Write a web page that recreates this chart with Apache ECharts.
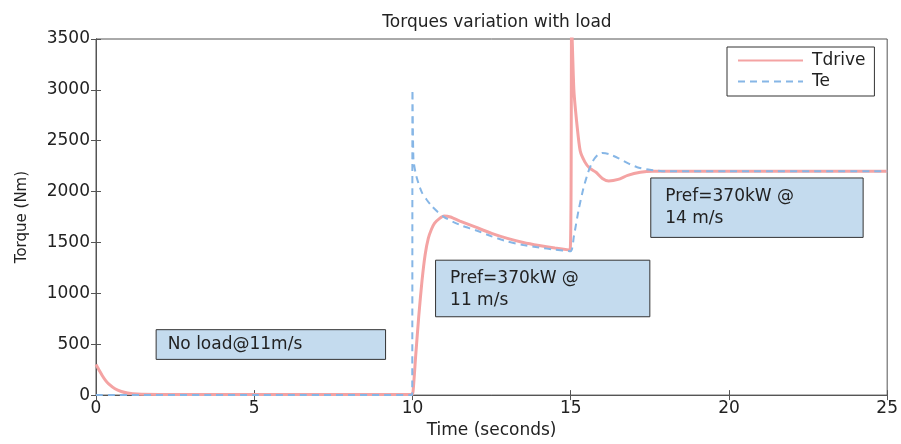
<!DOCTYPE html>
<html>
<head>
<meta charset="utf-8">
<script src="https://cdn.jsdelivr.net/npm/echarts@6/dist/echarts.min.js"></script>
<style>
  html, body { margin: 0; padding: 0; background: #fff; }
  #chart { width: 901px; height: 444px; }
</style>
</head>
<body>
<div id="chart"></div>
<script>
// Drive torque (Tdrive) samples: time in s, torque in Nm
const tdriveTime = [0, 0.1, 0.2, 0.3, 0.4, 0.6, 0.8, 1.0, 1.3, 2, 5, 9.98, 10.02, 10.1, 10.2, 10.3, 10.4, 10.5, 10.6, 10.7, 10.85, 11.0, 11.2, 11.5, 12, 12.5, 13, 13.5, 14, 14.5, 14.98, 15.03, 15.1, 15.2, 15.3, 15.45, 15.6, 15.8, 16.0, 16.2, 16.5, 16.8, 17.2, 17.6, 18, 20, 25];
const tdriveVal  = [300, 245, 190, 145, 110, 62, 35, 20, 10, 6, 5, 5, 40, 380, 780, 1120, 1380, 1540, 1630, 1690, 1735, 1760, 1750, 1710, 1650, 1590, 1540, 1500, 1470, 1445, 1425, 3650, 3000, 2650, 2400, 2290, 2230, 2190, 2130, 2105, 2120, 2160, 2190, 2200, 2200, 2200, 2200];

// Generator electromagnetic torque (Te) samples
const teTime = [0, 5, 9.99, 10.0, 10.03, 10.1, 10.2, 10.3, 10.45, 10.6, 10.8, 11.0, 11.3, 11.6, 12, 12.5, 13, 13.5, 14, 14.5, 15.0, 15.1, 15.25, 15.4, 15.55, 15.7, 15.85, 16.0, 16.2, 16.5, 16.8, 17.1, 17.5, 18, 20, 25];
const teVal  = [0, 0, 0, 3000, 2320, 2180, 2070, 1990, 1920, 1860, 1800, 1750, 1700, 1660, 1620, 1560, 1510, 1475, 1450, 1430, 1415, 1560, 1820, 2030, 2190, 2300, 2360, 2380, 2370, 2330, 2280, 2240, 2215, 2200, 2200, 2200];

// Axis ticks
const xTicks = [0, 5, 10, 15, 20, 25];
const yTicks = [0, 500, 1000, 1500, 2000, 2500, 3000, 3500];

// Operating-condition notes: [x0, y0, x1, y1, text, placement]
const noteNoLoad = [1.9, 643, 9.15, 351, 'No load@11m/s', 'insideLeft'];
const noteWind11 = [10.73, 1326, 17.5, 770, 'Pref=370kW @\n11 m/s', 'insideTopLeft'];
const noteWind14 = [17.53, 2134, 24.24, 1550, 'Pref=370kW @\n14 m/s', 'insideTopLeft'];

const FONT = 'DejaVu Sans, Liberation Sans, Arial, sans-serif';
const AX = '#555';
const TXT = '#222';

function pairs(xs, ys) { return xs.map((x, i) => [x, ys[i]]); }

function note(n) {
  const left = n[5] === 'insideLeft';
  return [
    {
      xAxis: n[0], yAxis: n[1],
      label: {
        show: true, position: n[5], formatter: n[4],
        color: TXT, fontSize: 17, fontFamily: FONT, lineHeight: 22,
        distance: left ? 12 : 8,
        padding: left ? 0 : [0, 0, 0, 7]
      }
    },
    { xAxis: n[2], yAxis: n[3] }
  ];
}

const chart = echarts.init(document.getElementById('chart'), null, { renderer: 'canvas' });

const axisCommon = {
  type: 'value',
  axisLine: { show: true, lineStyle: { color: AX, width: 1 } },
  axisTick: { show: true, inside: true, length: 5, lineStyle: { color: AX } },
  splitLine: { show: false },
  axisLabel: { color: TXT, fontSize: 17, fontFamily: FONT, formatter: v => String(v) }
};

chart.setOption({
  animation: false,
  backgroundColor: '#fff',
  title: {
    text: 'Torques variation with load',
    left: 492, top: 9, textAlign: 'center',
    textStyle: { fontSize: 17, fontWeight: 'normal', color: TXT, fontFamily: FONT }
  },
  legend: {
    orient: 'vertical',
    left: 727, top: 47,
    padding: [5, 9, 6, 10],
    itemGap: 4,
    itemWidth: 65, itemHeight: 14,
    borderColor: '#333', borderWidth: 1,
    backgroundColor: '#fff',
    itemStyle: { opacity: 0 },
    textStyle: { fontSize: 17, color: TXT, fontFamily: FONT, padding: [0, 0, 0, 4] },
    data: ['Tdrive', 'Te']
  },
  grid: {
    left: 96, right: 13, top: 39, bottom: 46,
    show: true, borderColor: AX, borderWidth: 1, backgroundColor: 'transparent'
  },
  xAxis: [
    Object.assign({}, axisCommon, {
      min: xTicks[0], max: xTicks[xTicks.length - 1], interval: 5,
      name: 'Time (seconds)', nameLocation: 'middle', nameGap: 24,
      nameTextStyle: { fontSize: 17, color: TXT, fontFamily: FONT },
      axisLabel: Object.assign({}, axisCommon.axisLabel, { margin: 5 })
    }),
    Object.assign({}, axisCommon, {
      position: 'top', min: 0, max: 25, interval: 5,
      axisLabel: { show: false }
    })
  ],
  yAxis: [
    Object.assign({}, axisCommon, {
      min: yTicks[0], max: yTicks[yTicks.length - 1], interval: 500,
      name: 'Torque (Nm)', nameLocation: 'middle', nameGap: 66,
      nameTextStyle: { fontSize: 15, color: TXT, fontFamily: FONT },
      axisLabel: Object.assign({}, axisCommon.axisLabel, { margin: 6 })
    }),
    Object.assign({}, axisCommon, {
      position: 'right', min: 0, max: 3500, interval: 500,
      axisLabel: { show: false }
    })
  ],
  series: [
    {
      name: 'Tdrive',
      type: 'line',
      data: pairs(tdriveTime, tdriveVal),
      showSymbol: false, symbol: 'none',
      clip: true,
      smooth: 0.2,
      lineStyle: { color: '#f4a3a3', width: 3 },
      itemStyle: { color: '#f4a3a3' },
      z: 3,
      markArea: {
        silent: true,
        itemStyle: { color: '#c4dbee', borderColor: '#333', borderWidth: 1 },
        data: [note(noteNoLoad), note(noteWind11), note(noteWind14)]
      }
    },
    {
      name: 'Te',
      type: 'line',
      data: pairs(teTime, teVal),
      showSymbol: false, symbol: 'none',
      clip: true,
      smooth: 0.2,
      lineStyle: { color: '#86b6e6', width: 2, type: [7, 5] },
      itemStyle: { color: '#86b6e6' },
      z: 4
    }
  ]
});
</script>
</body>
</html>
